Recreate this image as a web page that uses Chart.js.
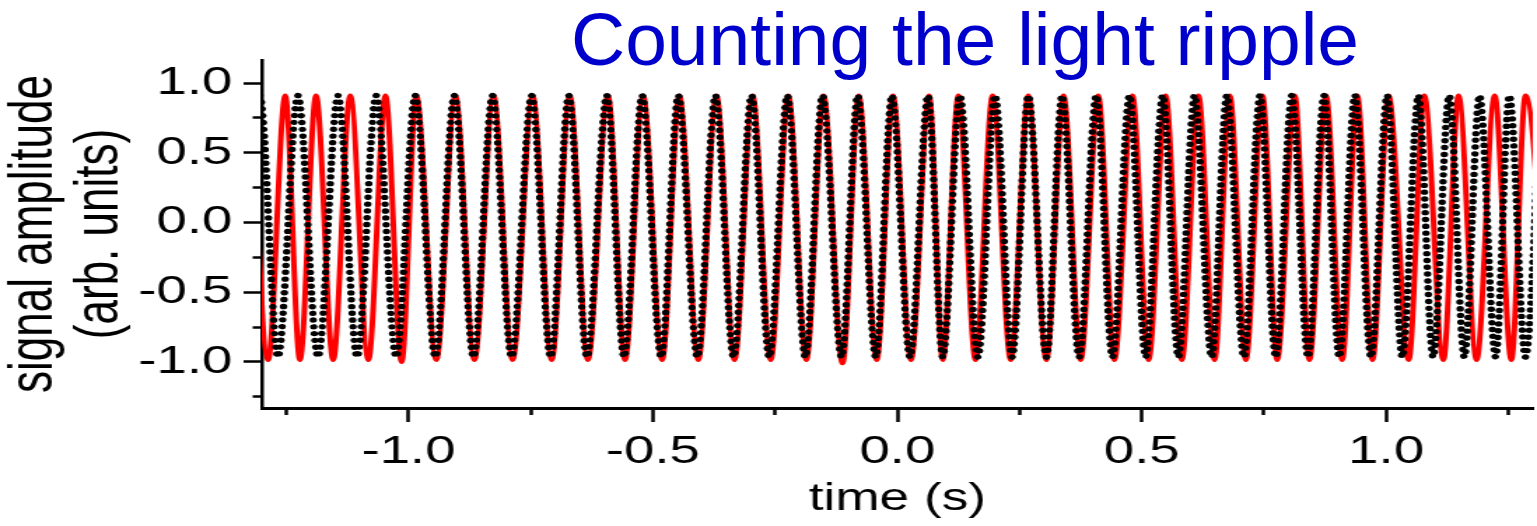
<!DOCTYPE html>
<html><head><meta charset="utf-8">
<script src="https://cdn.jsdelivr.net/npm/chart.js@4/dist/chart.umd.min.js"></script>
<style>
html,body{margin:0;padding:0;background:#fff;overflow:hidden;width:1537px;height:526px;}
#wrap{position:absolute;left:0;top:0;width:1098px;height:526px;transform:scaleX(1.39982);transform-origin:0 0;}
#title{position:absolute;left:571px;top:2px;margin:0;font-weight:normal;font-family:"Liberation Sans",Arial,sans-serif;font-size:75px;line-height:75px;color:#0000cc;white-space:nowrap;}
</style></head><body>
<div id="wrap"><canvas id="c" width="1098" height="526"></canvas></div>
<h1 id="title">Counting the light ripple</h1>
<script>
// Black dotted trace: times of successive extrema (s) and their amplitudes
const blackTime = [-1.343,-1.304,-1.267,-1.226,-1.185,-1.144,-1.105,-1.066,-1.025,-0.986,
  -0.945,-0.906,-0.867,-0.828,-0.789,-0.748,-0.709,-0.672,-0.635,-0.594,
  -0.559,-0.522,-0.483,-0.448,-0.409,-0.372,-0.335,-0.298,-0.262,-0.225,
  -0.188,-0.153,-0.114,-0.081,-0.044,-0.011,0.026,0.063,0.093,0.128,
  0.165,0.200,0.235,0.268,0.305,0.337,0.372,0.407,0.440,0.475,
  0.508,0.543,0.575,0.608,0.643,0.674,0.709,0.742,0.774,0.807,
  0.840,0.873,0.904,0.936,0.969,1.002,1.033,1.066,1.096,1.129,
  1.160,1.191,1.224,1.252,1.285,1.316];
const blackAmp = [-0.965,0.91,-0.965,0.91,-0.965,0.91,-0.965,0.91,-0.965,0.91,
  -0.965,0.91,-0.965,0.91,-0.965,0.91,-0.965,0.91,-0.965,0.91,
  -0.965,0.91,-0.965,0.91,-0.965,0.91,-0.965,0.91,-0.965,0.91,
  -0.965,0.91,-0.965,0.91,-0.965,0.91,-0.965,0.91,-0.965,0.91,
  -0.965,0.91,-0.965,0.91,-0.965,0.91,-0.965,0.91,-0.965,0.91,
  -0.965,0.91,-0.965,0.91,-0.965,0.91,-0.965,0.91,-0.965,0.91,
  -0.965,0.91,-0.965,0.91,-0.965,0.91,-0.965,0.91,-0.965,0.91,
  -0.965,0.91,-0.965,0.91,-0.965,0.91];
// Red trace: times of successive extrema (s) and their amplitudes
const redTime = [-1.322,-1.287,-1.252,-1.222,-1.189,-1.154,-1.119,-1.082,-1.047,-1.014,
  -0.984,-0.943,-0.904,-0.865,-0.826,-0.787,-0.746,-0.707,-0.670,-0.633,
  -0.592,-0.557,-0.520,-0.481,-0.446,-0.407,-0.370,-0.333,-0.296,-0.259,
  -0.223,-0.186,-0.151,-0.112,-0.079,-0.042,-0.009,0.028,0.065,0.093,
  0.125,0.160,0.195,0.232,0.268,0.305,0.340,0.375,0.411,0.444,
  0.481,0.514,0.549,0.582,0.616,0.649,0.680,0.713,0.747,0.777,
  0.813,0.843,0.877,0.910,0.941,0.972,1.005,1.046,1.078,1.117,
  1.148,1.185,1.222,1.256,1.285,1.334];
const redAmp = [0.91,-0.985,0.91,-0.985,0.91,-0.985,0.91,-0.985,0.91,-1.0,
  0.91,-0.985,0.91,-0.985,0.91,-0.985,0.91,-0.985,0.91,-0.985,
  0.91,-0.985,0.91,-0.985,0.91,-0.985,0.91,-0.985,0.91,-0.985,
  0.91,-0.985,0.91,-1.01,0.91,-0.985,0.91,-0.985,0.91,-0.985,
  0.91,-0.985,0.91,-0.985,0.91,-0.985,0.91,-0.985,0.91,-0.985,
  0.91,-0.985,0.91,-0.985,0.91,-0.985,0.91,-0.985,0.91,-0.985,
  0.91,-0.985,0.91,-0.985,0.91,-0.985,0.91,-0.985,0.91,-0.985,
  0.91,-0.985,0.91,-0.985,0.91,-0.985];
// Tick positions
const xMajorTicks = [-1.0,-0.5,0.0,0.5,1.0];
const xMinorTicks = [-1.25,-0.75,-0.25,0.25,0.75,1.25];
const yMajorTicks = [-1.0,-0.5,0.0,0.5,1.0];
const yMinorTicks = [-1.25,-0.75,-0.25,0.25,0.75];
const xTitle = 'time (s)';
const yTitle = ['signal amplitude','(arb. units)'];

const FONT = '"Liberation Sans", Arial, sans-serif';
const toXY = (t, a) => t.map((v, i) => ({x: v, y: a[i]}));
const setTicks = arr => s => { s.ticks = arr.map(v => ({value: v})); };

new Chart(document.getElementById('c'), {
  type: 'line',
  data: {
    datasets: [
      {label: 'measured', data: toXY(blackTime, blackAmp), borderColor: '#000', borderWidth: 5.4,
       borderDash: [0.01, 6.8], borderCapStyle: 'round', borderJoinStyle: 'round',
       cubicInterpolationMode: 'monotone', pointRadius: 0, pointHitRadius: 0, fill: false, clip: 0},
      {label: 'model', data: toXY(redTime, redAmp), borderColor: '#ff0000', borderWidth: 4,
       borderCapStyle: 'round', borderJoinStyle: 'round',
       cubicInterpolationMode: 'monotone', pointRadius: 0, pointHitRadius: 0, fill: false, clip: 0}
    ]
  },
  options: {
    responsive: false, animation: false, devicePixelRatio: 1, events: [],
    layout: {padding: {top: 60, right: 3, bottom: 0, left: 0}},
    plugins: {legend: {display: false}, title: {display: false}, tooltip: {enabled: false}},
    scales: {
      x: {type: 'linear', axis: 'x', position: 'bottom', min: -1.3, max: 1.3, weight: 1,
        afterBuildTicks: setTicks(xMajorTicks), afterFit: s => { s.height = 118; },
        grid: {display: true, drawOnChartArea: false, drawTicks: true, tickLength: 14, tickWidth: 2.5, tickColor: '#000'},
        border: {display: true, color: '#000', width: 3},
        ticks: {font: {family: FONT, size: 39}, color: '#000', padding: 7, maxRotation: 0, minRotation: 0, autoSkip: false,
          callback: v => Number(v).toFixed(1)},
        title: {display: true, text: xTitle, font: {family: FONT, size: 38}, color: '#000', padding: {top: 0, bottom: 4}}
      },
      x2: {type: 'linear', axis: 'x', position: 'bottom', min: -1.3, max: 1.3, weight: 0,
        afterBuildTicks: setTicks(xMinorTicks), afterFit: s => { s.height = 0; },
        grid: {display: true, drawOnChartArea: false, drawTicks: true, tickLength: 7, tickWidth: 2.5, tickColor: '#000'},
        border: {display: false}, ticks: {display: false}
      },
      y: {type: 'linear', axis: 'y', position: 'left', min: -1.33, max: 1.165, weight: 1,
        afterBuildTicks: setTicks(yMajorTicks), afterFit: s => { s.width = 187; },
        grid: {display: true, drawOnChartArea: false, drawTicks: true, tickLength: 13, tickWidth: 2.5, tickColor: '#000'},
        border: {display: true, color: '#000', width: 2.5},
        ticks: {font: {family: FONT, size: 39}, color: '#000', padding: 8, autoSkip: false,
          callback: v => Number(v).toFixed(1)},
        title: {display: true, text: yTitle, font: {family: FONT, size: 44, lineHeight: '47px'}, color: '#000', padding: {top: 1, bottom: 0}}
      },
      y2: {type: 'linear', axis: 'y', position: 'left', min: -1.33, max: 1.165, weight: 0,
        afterBuildTicks: setTicks(yMinorTicks), afterFit: s => { s.width = 0; },
        grid: {display: true, drawOnChartArea: false, drawTicks: true, tickLength: 6.5, tickWidth: 2.5, tickColor: '#000'},
        border: {display: false}, ticks: {display: false}
      }
    }
  }
});
</script>
</body></html>
